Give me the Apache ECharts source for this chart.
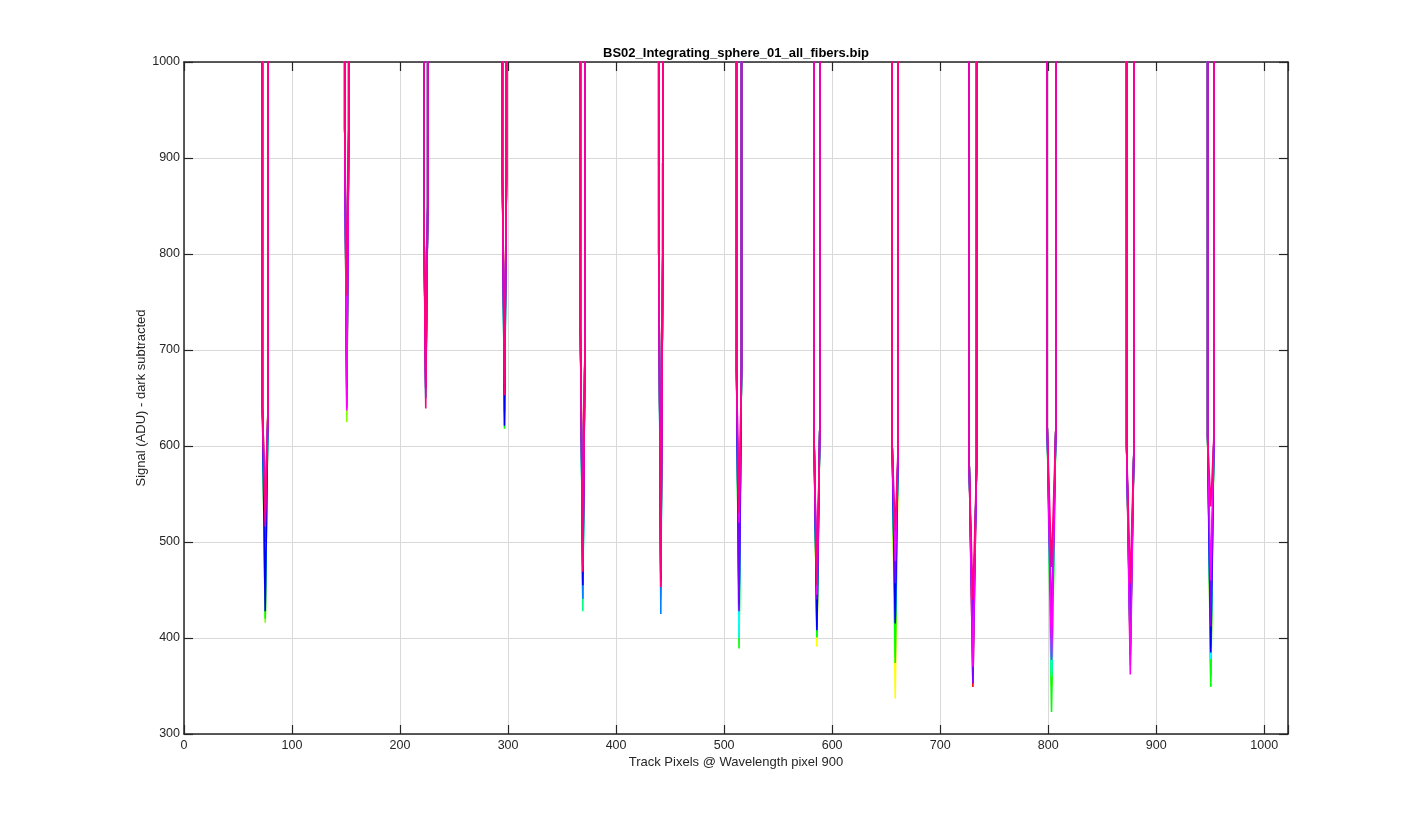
<!DOCTYPE html>
<html>
<head>
<meta charset="utf-8">
<script src="https://cdn.jsdelivr.net/npm/echarts@6/dist/echarts.min.js"></script>
<style>
html,body{margin:0;padding:0;background:#fff;}
#chart{width:1425px;height:825px;}
</style>
</head>
<body>
<div id="chart"></div>
<script>
// ---- data ----
const titleText = 'BS02_Integrating_sphere_01_all_fibers.bip';
const xLabel = 'Track Pixels @ Wavelength pixel 900';
const yLabel = 'Signal (ADU) - dark subtracted';
const xTicks = [0,100,200,300,400,500,600,700,800,900,1000];
const yTicks = [300,400,500,600,700,800,900,1000];

// gap (dip) positions between fibres, in track pixels
const dipCenter = [75.2, 150.7, 223.8, 296.7, 369.2, 441.4, 513.8, 585.9, 658.4, 730.3, 803.1, 876.0, 950.5];
const dipLeft   = [72.6, 148.8, 222.0, 294.8, 367.0, 439.5, 511.5, 583.1, 655.6, 726.9, 799.1, 872.6, 947.6];
const dipRight  = [77.8, 152.5, 225.6, 298.5, 371.3, 443.2, 516.1, 588.6, 661.1, 733.7, 807.1, 879.4, 953.4];
// signal level where the steep walls of each gap end
const dipShoulder = [640, 930, 850, 880, 720, 800, 680, 620, 600, 580, 620, 600, 610];
// saturated level between gaps (off the top of the plot)
const plateau = 5000;
const trackEnd = 1022;

// per-fibre-trace minimum in each gap (one array per trace, 13 gaps)
const seriesNames = ['t01','t02','t03','t04','t05','t06','t07','t08','t09','t10','t11','t12'];
const seriesColors = ['#ff0000','#ff8000','#ffff00','#80ff00','#00ff00','#00ff80','#00ffff','#0080ff','#0000ff','#8000ff','#ff00ff','#ff0080'];
const minT01 = [545, 700, 700, 680, 500, 480, 450, 430, 440, 349, 396, 400, 400];
const minT02 = [540, 690, 690, 670, 490, 470, 440, 403, 431, 380, 430, 372, 360];
const minT03 = [535, 660, 680, 660, 480, 465, 420, 391, 337, 385, 440, 390, 380];
const minT04 = [416, 625, 670, 650, 450, 460, 400, 400, 380, 390, 350, 385, 370];
const minT05 = [420, 650, 660, 618, 440, 450, 389, 401, 374, 392, 323, 388, 349];
const minT06 = [450, 660, 655, 630, 428, 445, 405, 420, 420, 395, 365, 395, 380];
const minT07 = [470, 670, 650, 640, 445, 440, 400, 415, 425, 398, 360, 392, 378];
const minT08 = [500, 680, 650, 635, 441, 425, 430, 412, 420, 392, 380, 400, 390];
const minT09 = [428, 660, 660, 621, 455, 460, 435, 408, 415, 393, 400, 382, 385];
const minT10 = [520, 640, 665, 660, 470, 465, 428, 440, 457, 353, 410, 420, 412];
const minT11 = [530, 637, 660, 665, 475, 470, 520, 445, 480, 370, 377, 362, 460];
const minT12 = [516, 757, 639, 653, 469, 453, 530, 455, 512, 440, 474, 457, 537];
const seriesMins = [minT01,minT02,minT03,minT04,minT05,minT06,minT07,minT08,minT09,minT10,minT11,minT12];

// ---- build traces ----
function buildTrace(mins){
  const pts = [[0, plateau]];
  for (let k = 0; k < dipCenter.length; k++){
    pts.push([dipLeft[k] - 0.4, plateau]);
    pts.push([dipLeft[k], dipShoulder[k]]);
    pts.push([dipCenter[k], mins[k]]);
    pts.push([dipRight[k], dipShoulder[k]]);
    pts.push([dipRight[k] + 0.4, plateau]);
  }
  pts.push([trackEnd, plateau]);
  return pts;
}

const series = seriesMins.map((m, i) => ({
  name: seriesNames[i],
  type: 'line',
  xAxisIndex: 0,
  yAxisIndex: 0,
  data: buildTrace(m),
  symbol: 'none',
  clip: true,
  lineStyle: {color: seriesColors[i], width: 1.6},
  itemStyle: {color: seriesColors[i]},
  emphasis: {disabled: true},
  z: 2 + i
}));

const axisColor = '#262626';
const gridColor = '#d9d9d9';
const fontFam = '"Liberation Sans", Arial, Helvetica, sans-serif';

const chart = echarts.init(document.getElementById('chart'), null, {renderer: 'canvas'});
chart.setOption({
  animation: false,
  backgroundColor: '#ffffff',
  grid: {left: 184, right: 137, top: 62, bottom: 91, containLabel: false},
  graphic: [{
    type: 'text', x: 736, y: 53, z: 100,
    style: {text: titleText, textAlign: 'center', textVerticalAlign: 'middle',
            font: 'bold 13px ' + fontFam, fill: '#000000'}
  }],
  xAxis: [{
    type: 'value', min: 0, max: trackEnd, interval: 100, position: 'bottom',
    name: xLabel, nameLocation: 'middle', nameGap: 22, nameMoveOverlap: false,
    nameTextStyle: {color: axisColor, fontSize: 13, fontFamily: fontFam},
    axisLine: {show: true, onZero: false, lineStyle: {color: axisColor, width: 1.5}},
    axisTick: {show: true, inside: true, length: 9, lineStyle: {color: axisColor, width: 1.2}},
    axisLabel: {color: axisColor, fontSize: 12.5, fontFamily: fontFam, margin: 5,
      formatter: v => xTicks.indexOf(v) >= 0 ? String(v) : ''},
    splitLine: {show: true, lineStyle: {color: gridColor, width: 1}}
  },{
    type: 'value', min: 0, max: trackEnd, interval: 100, position: 'top',
    axisLine: {show: true, onZero: false, lineStyle: {color: axisColor, width: 1.5}},
    axisTick: {show: true, inside: true, length: 9, lineStyle: {color: axisColor, width: 1.2}},
    axisLabel: {show: false},
    splitLine: {show: false}
  }],
  yAxis: [{
    type: 'value', min: 300, max: 1000, interval: 100, position: 'left',
    name: yLabel, nameLocation: 'middle', nameGap: 36, nameRotate: 90, nameMoveOverlap: false,
    nameTextStyle: {color: axisColor, fontSize: 13, fontFamily: fontFam},
    axisLine: {show: true, onZero: false, lineStyle: {color: axisColor, width: 1.5}},
    axisTick: {show: true, inside: true, length: 9, lineStyle: {color: axisColor, width: 1.2}},
    axisLabel: {color: axisColor, fontSize: 12.5, fontFamily: fontFam, margin: 4,
      formatter: v => yTicks.indexOf(v) >= 0 ? String(v) : ''},
    splitLine: {show: true, lineStyle: {color: gridColor, width: 1}}
  },{
    type: 'value', min: 300, max: 1000, interval: 100, position: 'right',
    axisLine: {show: true, onZero: false, lineStyle: {color: axisColor, width: 1.5}},
    axisTick: {show: true, inside: true, length: 9, lineStyle: {color: axisColor, width: 1.2}},
    axisLabel: {show: false},
    splitLine: {show: false}
  }],
  series: series
});
</script>
</body>
</html>
